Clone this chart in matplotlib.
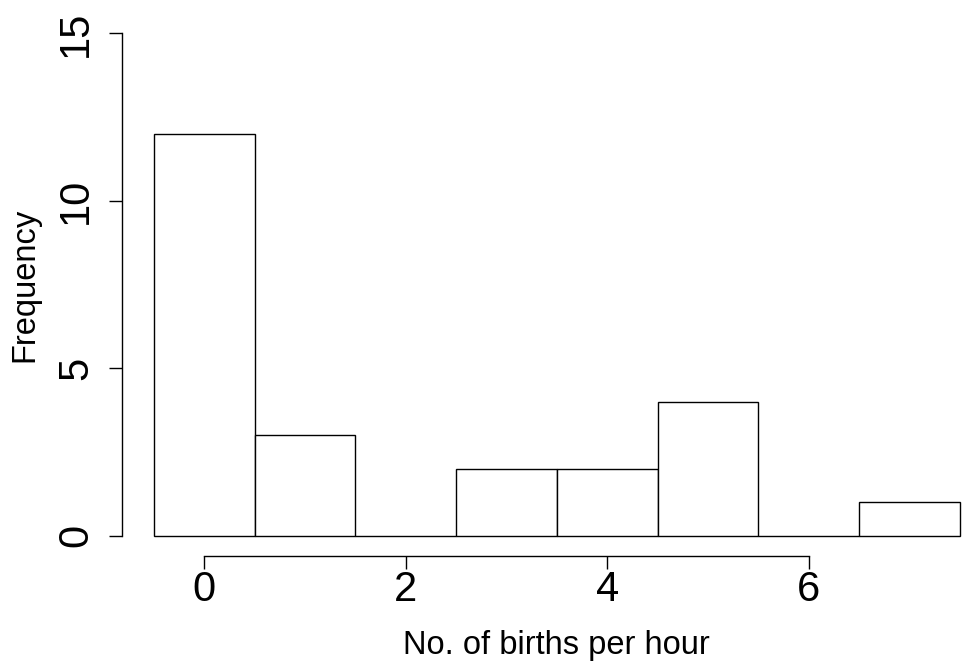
import matplotlib
matplotlib.use("Agg")
import matplotlib.pyplot as plt

# Births per hour: histogram counts for unit-wide bins centred on 0..7
bin_centres = [0, 1, 2, 3, 4, 5, 6, 7]
counts = [12, 3, 0, 2, 2, 4, 0, 1]
x_ticks = [0, 2, 4, 6]
y_ticks = [0, 5, 10, 15]
x_label = "No. of births per hour"
y_label = "Frequency"

plt.rcParams["font.family"] = ["Liberation Sans", "DejaVu Sans"]

W, H = 963, 669
fig = plt.figure(figsize=(W / 100, H / 100), dpi=100)

# plot region in pixels (R-style 4% extension around the data range)
left_px, right_px = 121.6, 992.0
bottom_px, top_px = 556.0, 13.4
ax = fig.add_axes([left_px / W, (H - bottom_px) / H,
                   (right_px - left_px) / W, (bottom_px - top_px) / H])
ax.set_xlim(-0.82, 7.82)
ax.set_ylim(-0.6, 15.6)
ax.patch.set_visible(False)

ax.bar(bin_centres, counts, width=1.0, align="center",
       facecolor="white", edgecolor="black", linewidth=1.0, clip_on=False)

for side in ("top", "right"):
    ax.spines[side].set_visible(False)
ax.spines["left"].set_bounds(y_ticks[0], y_ticks[-1])
ax.spines["bottom"].set_bounds(x_ticks[0], x_ticks[-1])
for side in ("left", "bottom"):
    ax.spines[side].set_linewidth(1.0)

ax.set_xticks(x_ticks)
ax.set_yticks(y_ticks)
ax.set_xticklabels([str(t) for t in x_ticks])
ax.set_yticklabels([str(t) for t in y_ticks], rotation=90, va="center")
ax.tick_params(axis="both", direction="out", length=9.4, width=1.0,
               labelsize=30, colors="black")
ax.tick_params(axis="x", pad=1)
ax.tick_params(axis="y", pad=9)

ax.set_xlabel(x_label, fontsize=23.5, labelpad=14)
ax.set_ylabel(y_label, fontsize=23.5, labelpad=11.5)

fig.savefig("out.png", dpi=100)
